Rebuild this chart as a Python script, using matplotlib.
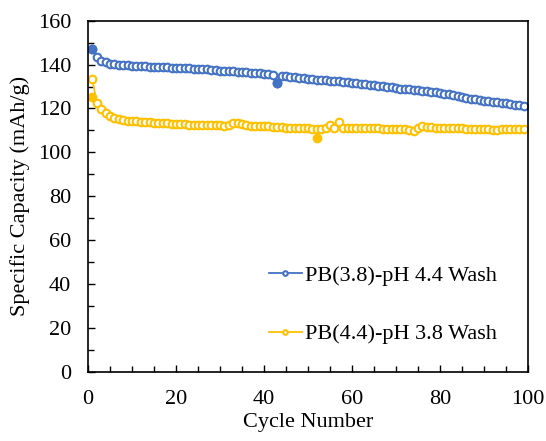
import matplotlib
matplotlib.use("Agg")
import matplotlib.pyplot as plt
from matplotlib.ticker import MultipleLocator

plt.rcParams['font.family'] = ['Liberation Serif', 'DejaVu Serif']

# cycle numbers 1..99
cycles = list(range(1, 100))

# PB(3.8)-pH 4.4 Wash
blue_capacity = [
    147.1, 143.5, 141.8, 141.0, 140.5, 140.2, 140.0, 139.8, 139.6, 139.5,
    139.4, 139.3, 139.2, 139.1, 139.0, 138.9, 138.8, 138.7, 138.6, 138.5,
    138.5, 138.4, 138.3, 138.2, 138.1, 137.9, 137.8, 137.6, 137.5, 137.3,
    137.2, 137.1, 136.9, 136.8, 136.6, 136.5, 136.3, 136.2, 136.0, 135.8,
    135.6, 135.4, 131.5, 135.0, 134.7, 134.5, 134.3, 134.0, 133.8, 133.5,
    133.4, 133.2, 133.0, 132.9, 132.7, 132.5, 132.4, 132.2, 132.0, 131.8,
    131.6, 131.3, 131.1, 130.8, 130.6, 130.3, 130.1, 129.8, 129.6, 129.3,
    129.1, 128.9, 128.7, 128.5, 128.2, 128.0, 127.8, 127.6, 127.3, 127.0,
    126.7, 126.4, 126.0, 125.6, 125.2, 124.9, 124.5, 124.1, 123.7, 123.5,
    123.3, 123.0, 122.8, 122.6, 122.4, 122.1, 121.8, 121.5, 121.2,
]

# PB(4.4)-pH 3.8 Wash
yellow_capacity = [
    133.6, 122.5, 119.8, 117.8, 116.5, 115.8, 115.2, 114.8, 114.5, 114.3,
    114.1, 114.0, 113.8, 113.7, 113.5, 113.4, 113.3, 113.2, 113.1, 113.0,
    112.9, 112.8, 112.7, 112.6, 112.5, 112.5, 112.4, 112.4, 112.3, 112.3,
    112.2, 112.6, 113.2, 113.3, 113.0, 112.5, 112.2, 112.0, 112.0, 111.9,
    111.8, 111.6, 111.5, 111.4, 111.2, 111.0, 111.2, 111.3, 111.2, 111.0,
    110.6, 110.5, 110.6, 111.2, 112.6, 111.1, 113.9, 110.9, 111.0, 111.2,
    111.3, 111.2, 111.1, 111.0, 111.1, 111.0, 110.8, 110.7, 110.8, 110.8,
    110.7, 110.5, 110.1, 109.7, 111.0, 112.0, 111.6, 111.4, 111.2, 111.3,
    111.2, 111.0, 111.0, 110.9, 110.9, 110.8, 110.8, 110.7, 110.8, 110.6,
    110.5, 110.3, 110.0, 110.6, 110.8, 110.7, 110.8, 110.7, 110.8,
]

# points drawn with a filled marker
blue_filled_x = [1, 43]
blue_filled_y = [147.1, 131.5]
yellow_filled_x = [1, 52]
yellow_filled_y = [125.3, 106.7]

blue = '#4472C4'
yellow = '#FFC000'

fig = plt.figure(figsize=(5.46, 4.41), dpi=100)
ax = fig.add_axes([0.161, 0.157, 0.806, 0.796])

ax.plot(cycles, blue_capacity, '-o', color=blue, lw=1.3, ms=5.5, mew=1.5,
        mfc='white', mec=blue, label='PB(3.8)-pH 4.4 Wash')
ax.plot(cycles, yellow_capacity, '-o', color=yellow, lw=1.3, ms=5.5, mew=1.5,
        mfc='white', mec=yellow, label='PB(4.4)-pH 3.8 Wash')
ax.plot(blue_filled_x, blue_filled_y, 'o', color=blue, ms=6)
ax.plot(yellow_filled_x, yellow_filled_y, 'o', color=yellow, ms=6)

ax.set_xlim(0, 100)
ax.set_ylim(0, 160)
ax.xaxis.set_major_locator(MultipleLocator(20))
ax.xaxis.set_minor_locator(MultipleLocator(5))
ax.yaxis.set_major_locator(MultipleLocator(20))
ax.yaxis.set_minor_locator(MultipleLocator(10))
ax.tick_params(which='both', direction='in', labelsize=16, width=1)
ax.tick_params(which='major', length=5)
ax.tick_params(axis='x', which='major', pad=13)
ax.tick_params(axis='y', which='major', pad=12)
ax.tick_params(which='minor', length=4)
for s in ax.spines.values():
    s.set_linewidth(1.2)

ax.set_xlabel('Cycle Number', fontsize=16, labelpad=3)
ax.set_ylabel('Specific Capacity (mAh/g)', fontsize=16, labelpad=6)

ax.legend(loc='upper left', bbox_to_anchor=(0.365, 0.36), frameon=False,
          fontsize=16, labelspacing=1.7, handlelength=1.5, handletextpad=0.15,
          markerscale=0.6)

fig.savefig('out.png', dpi=100)
